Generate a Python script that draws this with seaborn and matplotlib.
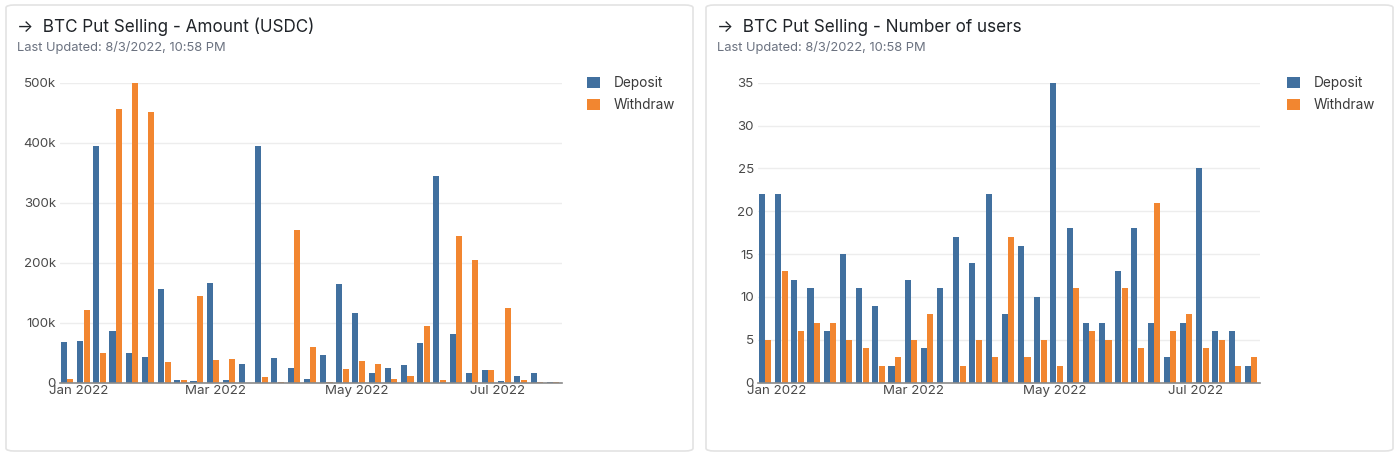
import numpy as np
import pandas as pd
import matplotlib
matplotlib.use('Agg')
import matplotlib.pyplot as plt
from matplotlib.patches import FancyBboxPatch
from matplotlib.ticker import FuncFormatter
import seaborn as sns

# --- DATA: weekly buckets, week starting Monday ---
weeks = pd.date_range("2021-12-27", periods=31, freq="7D")

amount_deposit = [68000, 70000, 395000, 87000, 49000, 43000, 157000, 4000, 3000, 167000,
                  4000, 32000, 395000, 42000, 25000, 7000, 47000, 164000, 116000, 17000,
                  24000, 29000, 67000, 344000, 81000, 16000, 21000, 3000, 11000, 16000, 1500]
amount_withdraw = [7000, 121000, 49000, 457000, 499000, 452000, 34000, 4000, 144000, 38000,
                   39000, 0, 10000, 1500, 254000, 59000, 1000, 23000, 37000, 32000,
                   6000, 12000, 94000, 4000, 245000, 205000, 21000, 124000, 4000, 1500, 1000]

users_deposit = [22, 22, 12, 11, 6, 15, 11, 9, 2, 12, 4, 11, 17, 14, 22, 8,
                 16, 10, 35, 18, 7, 7, 13, 18, 7, 3, 7, 25, 6, 6, 2]
users_withdraw = [5, 13, 6, 7, 7, 5, 4, 2, 3, 5, 8, 0, 2, 5, 3, 17,
                  3, 5, 2, 11, 6, 5, 11, 4, 21, 6, 8, 4, 5, 2, 3]

series_names = ["Deposit", "Withdraw"]
month_ticks = ["2022-01-01", "2022-03-01", "2022-05-01", "2022-07-01"]
month_labels = ["Jan 2022", "Mar 2022", "May 2022", "Jul 2022"]

COLORS = {"Deposit": "#41709f", "Withdraw": "#f28630"}
FONT = ["Inter", "DejaVu Sans"]

W, H = 1400, 458
ORIGIN = pd.Timestamp("2022-01-01")


def to_long(dep, wdr):
    days = (weeks - ORIGIN).days
    df = pd.DataFrame({"day": list(days) * 2,
                       "type": ["Deposit"] * len(dep) + ["Withdraw"] * len(wdr),
                       "value": list(dep) + list(wdr)})
    return df


def draw_panel(fig, x0, card_x0, card_x1, title, dep, wdr, ymax, ystep, fmt):
    # card background (behind the axes)
    card = FancyBboxPatch((card_x0 / W, 7 / H), (card_x1 - card_x0) / W, 446 / H,
                          boxstyle="round,pad=0,rounding_size=0.006",
                          transform=fig.transFigure, facecolor="white",
                          edgecolor="#e3e3e3", linewidth=1.2, zorder=-5)
    fig.patches.append(card)

    fig.text((card_x0 + 11) / W, 1 - 27 / H, "\u2192  " + title, fontsize=12.3,
             color="#1f2328", va="center", ha="left")
    fig.text((card_x0 + 11) / W, 1 - 48 / H, "Last Updated: 8/3/2022, 10:58 PM",
             fontsize=9.3, color="#6b7280", va="center", ha="left")

    ax = fig.add_axes([x0 / W, (H - 382.7) / H, 502 / W, 300 / H])
    ax.patch.set_alpha(0)
    df = to_long(dep, wdr)
    sns.barplot(data=df, x="day", y="value", hue="type", hue_order=series_names,
                palette=COLORS, native_scale=True, width=0.8, gap=0.06,
                linewidth=0, saturation=1, errorbar=None, ax=ax, legend=True, zorder=3)

    ax.set_xlim(-8.1, 208.9)
    ax.set_ylim(0, ymax)
    ax.set_yticks(np.arange(0, ymax + ystep / 2, ystep))
    ax.yaxis.set_major_formatter(FuncFormatter(fmt))
    ax.set_xticks([(pd.Timestamp(t) - ORIGIN).days for t in month_ticks])
    ax.set_xticklabels(month_labels)
    ax.set_xlabel("")
    ax.set_ylabel("")
    ax.tick_params(axis="both", length=0, labelsize=9.6, labelcolor="#4a4a4a")
    ax.tick_params(axis="y", pad=3)
    ax.tick_params(axis="x", pad=1.5)
    ax.grid(axis="y", color="#ededed", linewidth=1, zorder=0)
    ax.grid(axis="x", visible=False)
    ax.set_axisbelow(True)
    for s in ["top", "right", "left"]:
        ax.spines[s].set_visible(False)
    ax.spines["bottom"].set_color("#8a8a8a")
    ax.spines["bottom"].set_linewidth(1.2)
    ax.spines["bottom"].set_zorder(4)

    handles, labels = ax.get_legend_handles_labels()
    ax.get_legend().remove()
    fig.legend(handles, labels, loc="upper left",
               bbox_to_anchor=((card_x0 + 581) / W, 1 - 76 / H),
               frameon=False, fontsize=9.8, handlelength=0.92, handleheight=0.92,
               handletextpad=1.05, labelspacing=0.62, labelcolor="#3a3a3a",
               borderaxespad=0, borderpad=0)
    return ax


sns.set_style("white")
plt.rcParams['font.family'] = FONT

fig = plt.figure(figsize=(14, 4.58), dpi=100)
fig.patch.set_facecolor("white")

draw_panel(fig, 60, 6, 693, "BTC Put Selling - Amount (USDC)",
           amount_deposit, amount_withdraw, 500000, 100000,
           lambda v, p: "0" if v == 0 else f"{int(v / 1000)}k")
draw_panel(fig, 758, 706, 1393, "BTC Put Selling - Number of users",
           users_deposit, users_withdraw, 35, 5,
           lambda v, p: f"{int(v)}")

fig.savefig("out.png", dpi=100, facecolor="white")
